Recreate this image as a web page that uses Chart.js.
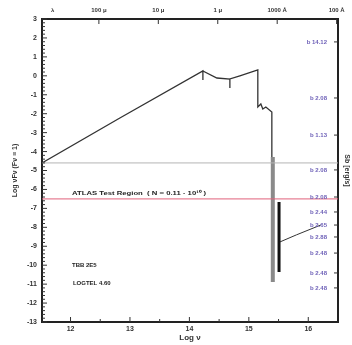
<!DOCTYPE html>
<html><head><meta charset="utf-8">
<script src="https://cdn.jsdelivr.net/npm/chart.js@4"></script>
<style>html,body{margin:0;padding:0;background:#fff}#wrap{width:352px;height:345px;position:relative}</style>
</head><body><div id="wrap"><canvas id="c" width="352" height="345"></canvas></div>
<script>
// ---- axis ticks ----
const logNuTicks = [12, 13, 14, 15, 16];
const logNuMinorTicks = [12.5, 13.5, 14.5, 15.5];
const lambdaTickValues = [11.70, 12.477, 13.477, 14.477, 15.477, 16.477];
const lambdaTickLabels = ['λ', '100 μ', '10 μ', '1 μ', '1000 Å', '100 Å'];
const sbTickValues = [1.79, -1.17, -3.13, -4.97, -6.40, -7.19, -7.88, -8.51, -9.36, -10.41, -11.20];
const sbTickLabels = ['b 14.12', 'b 2.08', 'b 1.13', 'b 2.08', 'b 2.08', 'b 2.44', 'b 2.65', 'b 2.88', 'b 2.48', 'b 2.48', 'b 2.48'];

// ---- series ----
const sedLogNu   = [11.52, 12.83, 14.227, 14.227, 14.227, 14.462, 14.681, 14.681, 14.681, 14.849, 15.151, 15.151, 15.202, 15.235, 15.286, 15.387, 15.387];
const sedLogFlux = [-4.60, -2.23, 0.255, -0.22, 0.255, -0.115, -0.168, -0.64, -0.168, 0.0, 0.307, -1.646, -1.488, -1.752, -1.646, -1.910, -4.286];
const blendLogNu   = [15.403, 15.403];
const blendLogFlux = [-4.29, -10.89];
const edgeLogNu   = [15.508, 15.508, 15.508];
const edgeLogFlux = [-6.66, -10.15, -10.36];
const tailLogNu   = [15.525, 15.80, 16.21];
const tailLogFlux = [-8.77, -8.40, -7.88];
const levelLogNu = [11.52, 16.5];
const grayLevel = -4.60;
const redLevel = -6.50;

const pts = (xs, ys) => xs.map((x, i) => ({x, y: ys[i]}));
const FONT = 'Liberation Sans';

function fitText(ctx, text, x, y, width) {
  const w = ctx.measureText(text).width;
  ctx.save();
  ctx.translate(x, y);
  ctx.scale(width / w, 1);
  ctx.fillText(text, 0, 0);
  ctx.restore();
}

const frameTicks = {
  id: 'frameTicks',
  afterDraw(chart) {
    const {ctx, chartArea: a, scales} = chart;
    ctx.save();
    ctx.strokeStyle = '#333';
    ctx.lineWidth = 1;
    const line = (x1, y1, x2, y2) => { ctx.beginPath(); ctx.moveTo(x1, y1); ctx.lineTo(x2, y2); ctx.stroke(); };
    scales.x.ticks.forEach(t => {
      const p = scales.x.getPixelForValue(t.value);
      const len = logNuTicks.includes(t.value) ? 5 : 3;
      line(p, a.bottom, p, a.bottom - len);
    });
    scales.x2.ticks.forEach((t, i) => {
      if (lambdaTickLabels[i] === 'λ') return;
      const p = scales.x2.getPixelForValue(t.value);
      line(p, a.top, p, a.top + 5);
    });
    scales.y.ticks.forEach(t => {
      const p = scales.y.getPixelForValue(t.value);
      const major = Math.abs(t.value - Math.round(t.value)) < 1e-6;
      line(a.left, p, a.left + (major ? 5 : 3), p);
    });
    ctx.fillStyle = '#6f62b8';
    ctx.font = 'bold 6px ' + FONT;
    ctx.textAlign = 'right';
    ctx.textBaseline = 'middle';
    scales.y2.ticks.forEach((t, i) => {
      const p = scales.y2.getPixelForValue(t.value);
      line(a.right, p, a.right - 4, p);
      ctx.fillText(sbTickLabels[i], a.right - 11, p);
    });
    // annotations
    const X = v => scales.x.getPixelForValue(v), Y = v => scales.y.getPixelForValue(v);
    ctx.fillStyle = '#222';
    ctx.textAlign = 'left';
    ctx.font = 'bold 6px ' + FONT;
    fitText(ctx, 'ATLAS Test Region  ( N = 0.11 · 10¹⁰ )', X(12.025), Y(-6.19), 134);
    ctx.fillText('TBB 2E5', X(12.025), Y(-9.99));
    ctx.fillText('LOGTEL 4.60', X(12.04), Y(-10.94));
    ctx.restore();
  }
};

new Chart(document.getElementById('c'), {
  type: 'scatter',
  data: {
    datasets: [
      {data: pts(levelLogNu, [grayLevel, grayLevel]), borderColor: '#b4b4b4', borderWidth: 1},
      {data: pts(levelLogNu, [redLevel, redLevel]), borderColor: '#e0607a', borderWidth: 1},
      {data: pts(sedLogNu, sedLogFlux), borderColor: '#333', borderWidth: 1.3},
      {data: pts(blendLogNu, blendLogFlux), borderColor: '#8a8a8a', borderWidth: 4},
      {data: pts(edgeLogNu, edgeLogFlux), borderColor: '#111', borderWidth: 3},
      {data: pts(tailLogNu, tailLogFlux), borderColor: '#333', borderWidth: 1}
    ]
  },
  options: {
    responsive: false,
    animation: false,
    devicePixelRatio: 1,
    showLine: true,
    elements: {point: {radius: 0, hoverRadius: 0}, line: {tension: 0}},
    layout: {padding: 0},
    plugins: {legend: {display: false}, tooltip: {enabled: false}},
    scales: {
      x: {
        type: 'linear', position: 'bottom', min: 11.52, max: 16.5,
        afterBuildTicks: s => { s.ticks = [...logNuTicks, ...logNuMinorTicks].sort((a, b) => a - b).map(v => ({value: v})); },
        afterFit: s => { s.height = 23; },
        grid: {display: false, drawTicks: false},
        border: {display: true, color: '#222', width: 2},
        ticks: {autoSkip: false, maxRotation: 0, padding: 3, color: '#333', font: {family: FONT, size: 7, weight: 'bold'},
          callback: v => logNuTicks.includes(v) ? String(v) : ''},
        title: {display: true, text: 'Log ν', color: '#333', font: {family: FONT, size: 8, weight: 'bold'}, padding: {top: 0, bottom: 2}}
      },
      x2: {
        type: 'linear', position: 'top', min: 11.52, max: 16.5,
        afterBuildTicks: s => { s.ticks = lambdaTickValues.map(v => ({value: v})); },
        afterFit: s => { s.height = 19; },
        grid: {display: false, drawTicks: false},
        border: {display: true, color: '#222', width: 2},
        ticks: {autoSkip: false, maxRotation: 0, padding: 5, color: '#333', font: {family: FONT, size: 6, weight: 'bold'},
          callback: (v, i) => lambdaTickLabels[i]}
      },
      y: {
        type: 'linear', position: 'left', min: -13, max: 3,
        afterFit: s => { s.width = 42; },
        grid: {display: false, drawTicks: false},
        border: {display: true, color: '#222', width: 2},
        ticks: {stepSize: 0.2, autoSkip: false, padding: 5, color: '#333', font: {family: FONT, size: 7, weight: 'bold'},
          callback: v => Math.abs(v - Math.round(v)) < 1e-6 ? String(Math.round(v)) : ''},
        title: {display: true, text: 'Log νFν (Fν ≡ 1)', color: '#333', font: {family: FONT, size: 7, weight: 'bold'}, padding: {top: 11, bottom: 0}}
      },
      y2: {
        type: 'linear', position: 'right', min: -13, max: 3,
        afterBuildTicks: s => { s.ticks = sbTickValues.map(v => ({value: v})); },
        afterFit: s => { s.width = 14; },
        grid: {display: false, drawTicks: false},
        border: {display: true, color: '#222', width: 2},
        ticks: {display: false},
        title: {display: true, text: 'Sb [erg/s]', color: '#333', font: {family: FONT, size: 7, weight: 'bold'}, padding: {top: 1, bottom: 0}}
      }
    }
  },
  plugins: [frameTicks]
});
</script></body></html>
